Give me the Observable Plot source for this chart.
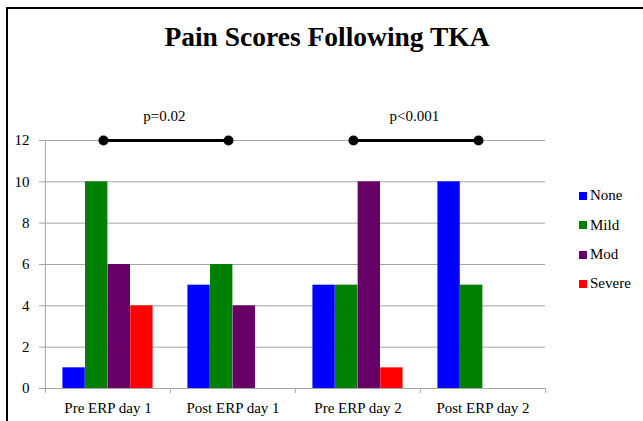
<!DOCTYPE html>
<html>
<head>
<meta charset="utf-8">
<script src="https://cdn.jsdelivr.net/npm/d3@7"></script>
<script src="https://cdn.jsdelivr.net/npm/@observablehq/plot@0.6"></script>
<style>
  body { margin: 0; background: #fff; font-family: "Liberation Serif", serif; color: #000; }
  #wrap { position: relative; width: 643px; height: 421px; overflow: hidden; }
  #border { position: absolute; left: 6px; top: 7px; width: 660px; height: 440px; border-top: 2px solid #000; border-left: 2px solid #000; }
  #title { position: absolute; left: 0; width: 654px; top: 22px; text-align: center; font-weight: bold; font-size: 27.5px; line-height: 30px; font-family: "Liberation Serif", serif; }
  #chart { position: absolute; left: 0; top: 90px; }
  .lg { position: absolute; font-size: 15px; line-height: 15px; white-space: nowrap; font-family: "Liberation Serif", serif; }
  .sw { position: absolute; width: 8px; height: 8px; }
</style>
</head>
<body>
<div id="wrap">
  <div id="border"></div>
  <div id="title">Pain Scores Following TKA</div>
  <div id="chart"></div>
  <div id="legend"></div>
</div>
<script>
// ---- data ----
const categories = ["Pre ERP day 1", "Post ERP day 1", "Pre ERP day 2", "Post ERP day 2"];
const series = ["None", "Mild", "Mod", "Severe"];
const noneValues = [1, 5, 5, 10];
const mildValues = [10, 6, 5, 5];
const modValues = [6, 4, 10, 0];
const severeValues = [4, 0, 1, 0];
const seriesColors = ["#0000ff", "#008000", "#660066", "#ff0000"];
const yTicks = [0, 2, 4, 6, 8, 10, 12];
const sigFrom = ["Pre ERP day 1", "Pre ERP day 2"];
const sigTo = ["Post ERP day 1", "Post ERP day 2"];
const sigLabels = ["p=0.02", "p<0.001"];
const sigLevel = 12;

// ---- build tables ----
const valuesBySeries = [noneValues, mildValues, modValues, severeValues];
const rows = [];
series.forEach((s, k) => categories.forEach((c, i) => rows.push({cat: c, series: s, value: valuesBySeries[k][i]})));
const sig = sigFrom.map((f, i) => ({from: f, to: sigTo[i], label: sigLabels[i], y: sigLevel}));

// ---- layout ----
const W = 643, H = 331, ML = 44, MR = 98, MT = 50, MB = 33;
const bw = (W - ML - MR) / categories.length;
const barW = 22.6;
const inset = (bw - barW) / 2;
const gray = "#a6a6a6";

const chart = Plot.plot({
  width: W, height: H,
  marginLeft: ML, marginRight: MR, marginTop: MT, marginBottom: MB,
  style: {fontFamily: "Liberation Serif, serif", fontSize: "15px", color: "#000", background: "transparent"},
  x: {domain: categories, padding: 0, label: null},
  y: {domain: [0, 12], label: null},
  marks: [
    Plot.gridY(yTicks, {stroke: gray, strokeOpacity: 1}),
    Plot.ruleX([categories[0]], {x: d => d, y1: 0, y2: 12, dx: -bw / 2, stroke: gray}),
    Plot.axisY(yTicks, {tickSize: 5, tickPadding: 10, stroke: gray, fontSize: 15, label: null}),
    Plot.axisX({tickSize: 0, tickPadding: 14, fontSize: 15, label: null}),
    Plot.axisX({tickSize: 5, tickFormat: () => "", stroke: gray, dx: -bw / 2, label: null}),
    Plot.axisX([categories[categories.length - 1]], {tickSize: 5, tickFormat: () => "", stroke: gray, dx: bw / 2, label: null}),
    ...series.map((s, k) => Plot.barY(rows.filter(d => d.series === s && d.value > 0), {
      x: "cat", y: "value", fill: seriesColors[k],
      insetLeft: inset, insetRight: inset, dx: (k - 1.5) * barW
    })),
    Plot.link(sig, {x1: "from", x2: "to", y1: "y", y2: "y", stroke: "#000", strokeWidth: 3, dx: -4.5}),
    Plot.dot(sig, {x: "from", y: "y", r: 5, fill: "#000", dx: -4.5}),
    Plot.dot(sig, {x: "to", y: "y", r: 5, fill: "#000", dx: -4.5}),
    Plot.text(sig, {x: "to", y: "y", text: "label", dx: -bw / 2 - 6, dy: -24, fontSize: 15, fill: "#000"})
  ]
});
document.getElementById("chart").appendChild(chart);

// ---- legend ----
const legend = document.getElementById("legend");
series.forEach((s, k) => {
  const baseline = 200.7 + k * 29.4;
  const sw = document.createElement("div");
  sw.className = "sw";
  sw.style.left = "579px";
  sw.style.top = (baseline - 9) + "px";
  sw.style.background = seriesColors[k];
  legend.appendChild(sw);
  const t = document.createElement("div");
  t.className = "lg";
  t.style.left = "590px";
  t.style.top = (baseline - 12.6) + "px";
  t.textContent = s;
  legend.appendChild(t);
});
</script>
</body>
</html>
